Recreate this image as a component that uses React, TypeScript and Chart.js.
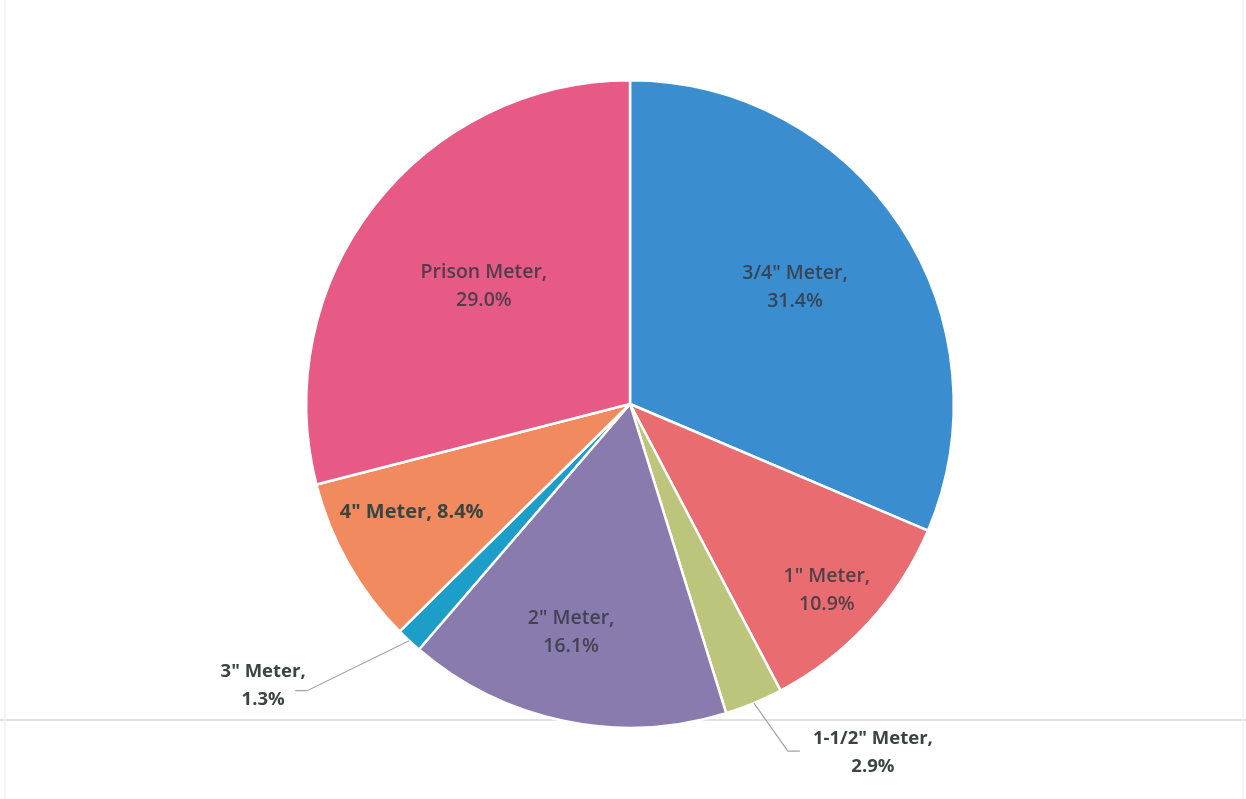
import React, { useEffect, useRef } from "react";
import { Chart, registerables } from "chart.js";

Chart.register(...registerables);

const categories = ['3/4" Meter', '1" Meter', '1-1/2" Meter', '2" Meter', '3" Meter', '4" Meter', "Prison Meter"];
const shares = [31.4, 10.9, 2.9, 16.1, 1.3, 8.4, 29.0];
const colors = ["#3a8ed0", "#e96c70", "#bdc47c", "#8a7bae", "#1c9ec9", "#f18a5e", "#e75a85"];

// label styling (not data)
const labelRadius = [0.6, 0.81, 0, 0.73, 0, 0.75, 0.63];
const labelShift: [number, number][] = [[3, -9], [4, 9], [0, 0], [-11, -3], [0, 0], [-7, -11], [15, 7]];
const labelMode = ["in2", "in2", "out", "in2", "out", "in1", "in2"];
const outOffset: Record<number, [number, number, number, number]> = {
  // dx,dy of text center from edge point; elbow dx,dy
  2: [119, 50, 34, 48],
  4: [-146, 45, -102, 50],
};

const labelPlugin = {
  id: "pieLabels",
  afterDatasetsDraw(chart: any) {
    const ctx = chart.ctx;
    const meta = chart.getDatasetMeta(0);
    ctx.save();
    meta.data.forEach((arc: any, i: number) => {
      const { x, y, startAngle, endAngle, outerRadius } = arc.getProps(
        ["x", "y", "startAngle", "endAngle", "outerRadius"],
        true
      );
      const mid = (startAngle + endAngle) / 2;
      const name = categories[i];
      const pct = shares[i].toFixed(1) + "%";
      ctx.textAlign = "center";
      ctx.textBaseline = "middle";
      if (labelMode[i] === "in2") {
        const r = outerRadius * labelRadius[i];
        const lx = x + Math.cos(mid) * r + labelShift[i][0];
        const ly = y + Math.sin(mid) * r + labelShift[i][1];
        ctx.fillStyle = "rgba(55,55,65,0.85)";
        ctx.font = "600 19.5px 'Open Sans', sans-serif";
        ctx.fillText(name + ",", lx, ly - 14);
        ctx.fillText(pct, lx, ly + 14);
      } else if (labelMode[i] === "in1") {
        const r = outerRadius * labelRadius[i];
        const lx = x + Math.cos(mid) * r + labelShift[i][0];
        const ly = y + Math.sin(mid) * r + labelShift[i][1];
        ctx.fillStyle = "#3b4540";
        ctx.font = "bold 20px 'Open Sans', sans-serif";
        ctx.fillText(name + ", " + pct, lx, ly);
      } else {
        const ex = x + Math.cos(mid) * outerRadius;
        const ey = y + Math.sin(mid) * outerRadius;
        const [dx, dy, bx, by] = outOffset[i];
        ctx.strokeStyle = "#a0a4a6";
        ctx.lineWidth = 1.2;
        ctx.beginPath();
        ctx.moveTo(ex, ey);
        ctx.lineTo(ex + bx, ey + by);
        ctx.lineTo(ex + bx + (bx > 0 ? 12 : -12), ey + by);
        ctx.stroke();
        ctx.fillStyle = "#3b4540";
        ctx.font = "bold 18.5px 'Open Sans', sans-serif";
        const tx = ex + dx;
        const ty = ey + dy;
        ctx.fillText(name + ",", tx, ty - 14);
        ctx.fillText(pct, tx, ty + 14);
      }
    });
    ctx.restore();
  },
};

const framePlugin = {
  id: "frame",
  beforeDraw(chart: any) {
    const ctx = chart.ctx;
    const w = chart.width;
    const h = chart.height;
    ctx.save();
    ctx.fillStyle = "#ffffff";
    ctx.fillRect(0, 0, w, h);
    ctx.strokeStyle = "#e2e0ea";
    ctx.lineWidth = 2;
    ctx.beginPath();
    ctx.moveTo(0, 720);
    ctx.lineTo(w, 720);
    ctx.stroke();
    ctx.strokeStyle = "#ececec";
    ctx.lineWidth = 1;
    ctx.beginPath();
    ctx.moveTo(5, 0);
    ctx.lineTo(5, h);
    ctx.moveTo(w - 3, 0);
    ctx.lineTo(w - 3, h);
    ctx.stroke();
    ctx.restore();
  },
};

export default function App() {
  const ref = useRef<HTMLCanvasElement>(null);
  useEffect(() => {
    document.body.style.margin = "0";
    const chart = new Chart(ref.current!, {
      type: "pie",
      data: {
        labels: categories,
        datasets: [
          {
            data: shares,
            backgroundColor: colors,
            borderColor: "#ffffff",
            borderWidth: 2.5,
          },
        ],
      },
      options: {
        animation: false,
        responsive: false,
        maintainAspectRatio: false,
        layout: { padding: { top: 79, bottom: 70, left: 14, right: 0 } },
        plugins: {
          legend: { display: false },
          tooltip: { enabled: false },
          title: { display: false },
        },
      },
      plugins: [framePlugin, labelPlugin],
    });
    return () => chart.destroy();
  }, []);
  return (
    <div style={{ position: "fixed", left: 0, top: 0, width: 1246, height: 799, background: "#fff" }}>
      <canvas ref={ref} width={1246} height={799} style={{ width: 1246, height: 799, display: "block" }} />
    </div>
  );
}
